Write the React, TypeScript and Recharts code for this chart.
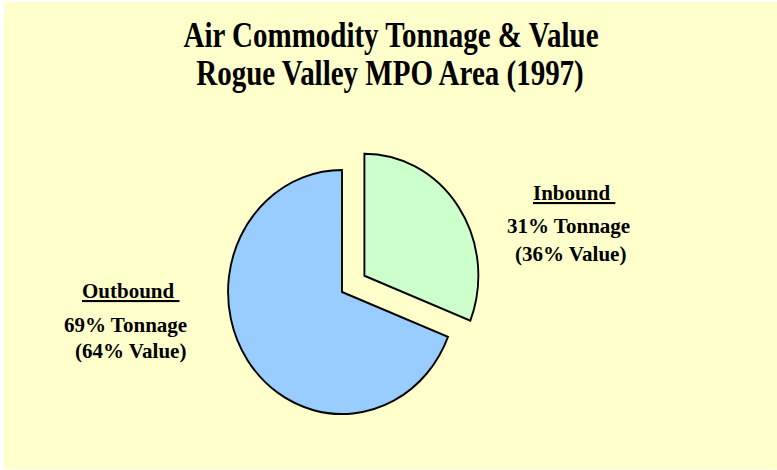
import { PieChart, Pie, Cell } from "recharts";

// ─── data ────────────────────────────────────────────────────────────────────

const directions = ["Inbound", "Outbound"];
const tonnageShare = [31, 69];
const valueShare = [36, 64];
const sliceColors = ["#CCFFCC", "#99CCFF"];

const titleLines = ["Air Commodity Tonnage & Value", "Rogue Valley MPO Area (1997)"];

// ─── layout ──────────────────────────────────────────────────────────────────

const W = 777;
const H = 470;
const BG = "#FFFFCC";
const FONT = '"Liberation Serif", "Times New Roman", serif';

const CX = 342;
const CY = 292;
const R = 122;
const SQUASH = 0.934; // original pie is a little narrower than it is tall
const EXPLODE = 29;

// label blocks: left x of each line and baseline y
const labelPos = [
  { x: [533, 507, 515], y: [200, 233, 261] },
  { x: [82, 64, 75], y: [298, 332, 358] },
];

const data = directions.map((name, i) => ({
  name,
  tonnage: tonnageShare[i],
  value: valueShare[i],
}));

const total = tonnageShare.reduce((a, b) => a + b, 0);
const midRad = ((90 - (tonnageShare[0] / total) * 180) * Math.PI) / 180;
const exCx = CX + EXPLODE * Math.cos(midRad);
const exCy = CY - EXPLODE * Math.sin(midRad);

export default function App() {
  return (
    <div style={{ position: "absolute", left: 0, top: 0, width: W, height: H, background: "#fff" }}>
      <div style={{ position: "absolute", left: 4, top: 2, width: W - 4, height: 467, background: BG }} />

      {/* pie, squashed horizontally */}
      <div
        style={{
          position: "absolute",
          left: 0,
          top: 0,
          width: W,
          height: H,
          transform: `scaleX(${SQUASH})`,
          transformOrigin: `${CX}px ${CY}px`,
        }}
      >
        <PieChart width={W} height={H} margin={{ top: 0, right: 0, bottom: 0, left: 0 }}>
          <Pie
            data={data}
            dataKey="tonnage"
            nameKey="name"
            cx={CX}
            cy={CY}
            outerRadius={R}
            startAngle={90}
            endAngle={-270}
            isAnimationActive={false}
            label={false}
            labelLine={false}
          >
            {data.map((d, i) => (
              <Cell
                key={d.name}
                fill={i === 0 ? "none" : sliceColors[i]}
                stroke={i === 0 ? "none" : "#000"}
                strokeWidth={2}
              />
            ))}
          </Pie>
          <Pie
            data={data}
            dataKey="tonnage"
            nameKey="name"
            cx={exCx}
            cy={exCy}
            outerRadius={R}
            startAngle={90}
            endAngle={-270}
            isAnimationActive={false}
            label={false}
            labelLine={false}
          >
            {data.map((d, i) => (
              <Cell
                key={d.name}
                fill={i === 0 ? sliceColors[i] : "none"}
                stroke={i === 0 ? "#000" : "none"}
                strokeWidth={2}
              />
            ))}
          </Pie>
        </PieChart>
      </div>

      {/* title + slice labels */}
      <svg
        width={W}
        height={H}
        style={{ position: "absolute", left: 0, top: 0, pointerEvents: "none" }}
        fontFamily={FONT}
        fontWeight="bold"
        fill="#000"
      >
        <text transform="translate(391 47) scale(1 1.25)" textAnchor="middle" fontSize={29}>
          {titleLines[0]}
        </text>
        <text transform="translate(390 85) scale(1 1.25)" textAnchor="middle" fontSize={29}>
          {titleLines[1]}
        </text>

        {directions.map((name, i) => (
          <g key={name} fontSize={21}>
            <text
              x={labelPos[i].x[0]}
              y={labelPos[i].y[0]}
              style={{ whiteSpace: "pre", textDecoration: "underline" }}
            >
              {name + " "}
            </text>
            <text x={labelPos[i].x[1]} y={labelPos[i].y[1]}>
              {`${tonnageShare[i]}% Tonnage`}
            </text>
            <text x={labelPos[i].x[2]} y={labelPos[i].y[2]}>
              {`(${valueShare[i]}% Value)`}
            </text>
          </g>
        ))}
      </svg>
    </div>
  );
}
